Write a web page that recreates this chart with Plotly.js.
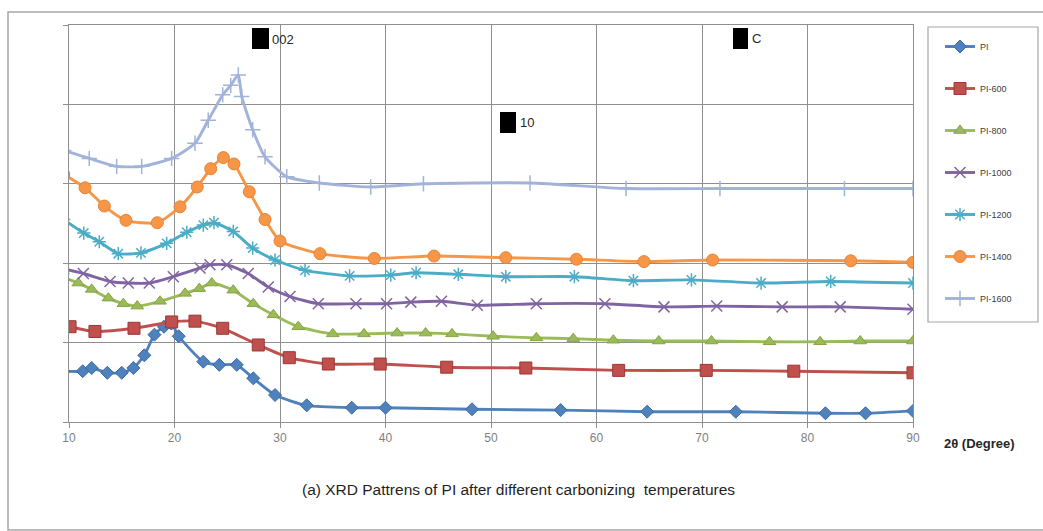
<!DOCTYPE html>
<html>
<head>
<meta charset="utf-8">
<script src="https://cdn.plot.ly/plotly-3.0.1.min.js"></script>
<style>
  html, body { margin: 0; padding: 0; background: #ffffff; }
  #chart { width: 1043px; height: 531px; }
</style>
</head>
<body>
<div id="chart"></div>
<script>
// ---- Data (intensities in arbitrary units) ----
const seriesNames = ["PI", "PI-600", "PI-800", "PI-1000", "PI-1200", "PI-1400", "PI-1600"];

const xPI   = [9.5, 11.3, 12.15, 13.63, 15.0, 16.1, 17.14, 18.1, 19.0, 19.7, 20.4, 22.73, 24.25, 25.9, 27.47, 29.53, 32.53, 36.8, 40.0, 48.2, 56.6, 64.8, 73.2, 81.7, 85.5, 90];
const yPI   = [0.64, 0.64, 0.68, 0.62, 0.62, 0.68, 0.84, 1.10, 1.20, 1.24, 1.08, 0.76, 0.72, 0.72, 0.55, 0.34, 0.21, 0.18, 0.18, 0.16, 0.15, 0.13, 0.13, 0.11, 0.11, 0.14];

const xPI600 = [10.1, 12.46, 16.16, 19.73, 21.94, 24.57, 27.94, 30.88, 34.58, 39.5, 45.8, 53.3, 62.1, 70.4, 78.7, 90];
const yPI600 = [1.20, 1.14, 1.18, 1.26, 1.27, 1.18, 0.97, 0.81, 0.73, 0.73, 0.69, 0.68, 0.65, 0.65, 0.64, 0.62];

const xPI800 = [9.5, 10.88, 12.15, 13.73, 15.15, 16.47, 18.63, 21.0, 22.35, 23.53, 25.57, 27.47, 29.37, 31.73, 35.0, 37.96, 41.1, 43.8, 46.3, 50.2, 54.3, 57.8, 61.6, 65.9, 70.9, 76.4, 81.2, 85.0, 90];
const yPI800 = [1.82, 1.75, 1.67, 1.56, 1.49, 1.46, 1.52, 1.62, 1.68, 1.75, 1.66, 1.49, 1.35, 1.20, 1.11, 1.11, 1.12, 1.12, 1.11, 1.08, 1.06, 1.05, 1.03, 1.02, 1.02, 1.01, 1.01, 1.02, 1.02];

const xPI1000 = [9.5, 11.36, 13.89, 15.62, 17.61, 19.89, 22.42, 23.36, 24.95, 26.99, 28.89, 30.95, 33.63, 37.2, 40.1, 42.4, 45.3, 48.7, 54.3, 60.8, 66.4, 71.4, 77.6, 83.1, 90];
const yPI1000 = [1.93, 1.87, 1.77, 1.75, 1.75, 1.83, 1.94, 1.98, 1.98, 1.87, 1.70, 1.58, 1.49, 1.49, 1.49, 1.51, 1.52, 1.47, 1.49, 1.49, 1.45, 1.46, 1.45, 1.45, 1.42];

const xPI1200 = [9.5, 11.4, 12.87, 14.67, 16.82, 19.26, 21.16, 22.73, 23.74, 25.57, 27.41, 29.53, 32.37, 36.6, 40.5, 42.9, 46.9, 51.4, 57.9, 63.5, 69.0, 75.6, 82.2, 90];
const yPI1200 = [2.55, 2.38, 2.27, 2.12, 2.13, 2.25, 2.39, 2.48, 2.51, 2.40, 2.19, 2.04, 1.91, 1.84, 1.85, 1.88, 1.86, 1.83, 1.83, 1.78, 1.79, 1.75, 1.77, 1.75];

const xPI1400 = [9.5, 11.52, 13.35, 15.4, 18.37, 20.52, 22.16, 23.43, 24.63, 25.64, 27.09, 28.58, 30.0, 33.79, 38.94, 44.6, 51.4, 58.1, 64.5, 71.0, 84.1, 90];
const yPI1400 = [3.12, 2.95, 2.72, 2.54, 2.51, 2.71, 2.96, 3.19, 3.33, 3.25, 2.90, 2.55, 2.28, 2.12, 2.06, 2.09, 2.07, 2.05, 2.02, 2.04, 2.03, 2.01];

const xPI1600 = [9.5, 11.92, 14.52, 16.89, 19.73, 21.94, 23.2, 24.57, 25.33, 26.05, 26.37, 27.41, 28.58, 30.64, 33.73, 38.6, 43.6, 53.7, 62.8, 71.7, 83.5, 90];
const yPI1600 = [3.42, 3.32, 3.22, 3.22, 3.32, 3.51, 3.80, 4.12, 4.24, 4.37, 4.10, 3.68, 3.34, 3.09, 3.01, 2.96, 3.00, 3.01, 2.94, 2.94, 2.94, 2.94];

const xTickVals = [10, 20, 30, 40, 50, 60, 70, 80, 90];
const xTickText = ["10", "20", "30", "40", "50", "60", "70", "80", "90"];
const xAxisLabel = "2θ (Degree)";
const chartTitle = "(a) XRD Pattrens of PI after different carbonizing  temperatures";
const peakLabels = ["002", "10", "C"];

// ---- Styles ----
const FONT = "'Liberation Sans', Arial, sans-serif";
const styles = [
  {color: "#4F81BD", symbol: "diamond", size: 10, mline: {color: "#3B6AA3", width: 1}},
  {color: "#C0504D", symbol: "square", size: 12, mline: {color: "#9C3734", width: 1}},
  {color: "#9BBB59", symbol: "triangle-up", size: 11, mline: {color: "#86A347", width: 1}},
  {color: "#8064A2", symbol: "x-thin-open", size: 11, mline: {color: "#8064A2", width: 1.5}},
  {color: "#4BACC6", symbol: "asterisk-open", size: 11, mline: {color: "#4BACC6", width: 1.5}},
  {color: "#F79646", symbol: "circle", size: 12, mline: {color: "#E5833A", width: 1}},
  {color: "#A2B3DA", symbol: "cross-thin-open", size: 11, mline: {color: "#A2B3DA", width: 1.5}}
];
const xs = [xPI, xPI600, xPI800, xPI1000, xPI1200, xPI1400, xPI1600];
const ys = [yPI, yPI600, yPI800, yPI1000, yPI1200, yPI1400, yPI1600];

const traces = seriesNames.map((name, i) => ({
  type: "scatter",
  mode: "lines+markers",
  name: name,
  legendgroup: "g" + i,
  x: xs[i],
  y: ys[i],
  line: {color: styles[i].color, width: 2.9, shape: "spline", smoothing: 0.6},
  marker: {symbol: styles[i].symbol, size: styles[i].size, color: styles[i].color, line: styles[i].mline},
  cliponaxis: true
}));

// pixel -> paper helpers (plot area: x 69..913, y 25..422)
const PL = 69, PR = 913, PT = 25, PB = 422;
const px = p => (p - PL) / (PR - PL);
const py = p => (PB - p) / (PB - PT);

const shapes = [
  // outer chart border
  {type: "rect", xref: "paper", yref: "paper", x0: px(8), x1: px(1046), y0: py(530), y1: py(12),
   line: {color: "#a6a6a6", width: 1.5}, fillcolor: "rgba(0,0,0,0)", layer: "below"},
  // legend box
  {type: "rect", xref: "paper", yref: "paper", x0: px(928), x1: px(1038), y0: py(322), y1: py(27),
   line: {color: "#a6a6a6", width: 1.2}, fillcolor: "rgba(0,0,0,0)"},
  // black marks before peak labels
  {type: "rect", xref: "paper", yref: "paper", x0: px(252), x1: px(269), y0: py(49), y1: py(28),
   line: {width: 0}, fillcolor: "#000000"},
  {type: "rect", xref: "paper", yref: "paper", x0: px(500), x1: px(516), y0: py(133), y1: py(112),
   line: {width: 0}, fillcolor: "#000000"},
  {type: "rect", xref: "paper", yref: "paper", x0: px(733), x1: px(748), y0: py(49), y1: py(28),
   line: {width: 0}, fillcolor: "#000000"}
];

const annotations = [
  {xref: "paper", yref: "paper", x: px(270), y: py(40), xanchor: "left", yanchor: "middle",
   text: peakLabels[0], showarrow: false, font: {family: FONT, size: 13, color: "#262626"}},
  {xref: "paper", yref: "paper", x: px(518), y: py(123), xanchor: "left", yanchor: "middle",
   text: peakLabels[1], showarrow: false, font: {family: FONT, size: 13, color: "#262626"}},
  {xref: "paper", yref: "paper", x: px(750), y: py(38), xanchor: "left", yanchor: "middle",
   text: peakLabels[2], showarrow: false, font: {family: FONT, size: 13, color: "#262626"}},
  {xref: "paper", yref: "paper", x: px(942), y: py(443), xanchor: "left", yanchor: "middle",
   text: "<b>" + xAxisLabel + "</b>", showarrow: false, font: {family: FONT, size: 13, color: "#262626"}},
  {xref: "paper", yref: "paper", x: px(518), y: py(489), xanchor: "center", yanchor: "middle",
   text: chartTitle, showarrow: false, font: {family: FONT, size: 15.5, color: "#1f1f1f"}}
];

const layout = {
  width: 1043, height: 531,
  margin: {l: PL, r: 1043 - PR, t: PT, b: 531 - PB, pad: 0},
  paper_bgcolor: "#ffffff", plot_bgcolor: "#ffffff",
  showlegend: true,
  xaxis: {
    range: [10, 90], tickvals: xTickVals, ticktext: xTickText,
    showgrid: true, gridcolor: "#8f8f8f", gridwidth: 1,
    showline: true, linecolor: "#8f8f8f", linewidth: 1, mirror: true,
    ticks: "outside", ticklen: 5, tickcolor: "#8f8f8f",
    tickfont: {family: FONT, size: 12, color: "#7f7f7f"},
    zeroline: false, fixedrange: true
  },
  yaxis: {
    range: [0, 5], dtick: 1, tick0: 0, showticklabels: false,
    showgrid: true, gridcolor: "#8f8f8f", gridwidth: 1,
    showline: true, linecolor: "#8f8f8f", linewidth: 1, mirror: true,
    ticks: "outside", ticklen: 5, tickcolor: "#8f8f8f",
    zeroline: false, fixedrange: true
  },
  legend: {
    x: px(940), y: py(32), xanchor: "left", yanchor: "top",
    bgcolor: "rgba(0,0,0,0)", borderwidth: 0,
    font: {family: FONT, size: 9, color: "#404040"},
    traceorder: "grouped", tracegroupgap: 23, itemwidth: 30
  },
  shapes: shapes,
  annotations: annotations
};

Plotly.newPlot("chart", traces, layout, {displayModeBar: false, staticPlot: true});
</script>
</body>
</html>
